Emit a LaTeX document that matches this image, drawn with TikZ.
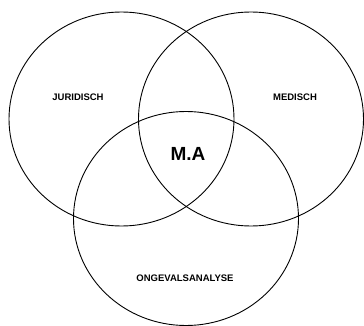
\documentclass[tikz,border=0pt]{standalone}
\usepackage{fontspec}
\setmainfont{Liberation Sans}
\usetikzlibrary{shapes.geometric}

\begin{document}
\begin{tikzpicture}[x=1pt, y=-1pt, line width=0.9pt,
      set/.style={draw, ellipse, minimum width=225pt, minimum height=214pt, inner sep=0pt},
      lbl/.style={font=\fontsize{9.5}{11}\selectfont\bfseries, inner sep=1pt},
      core/.style={font=\fontsize{19}{23}\selectfont\bfseries, inner sep=1pt}]

    \useasboundingbox (0, 0) rectangle (364, 326);

    % --- three overlapping sets ---
    \node[set] (jur) at (121.5, 119) {};
    \node[set] (med) at (251, 119) {};
    \node[set] (ong) at (186, 218.5) {};

    % --- set labels ---
    \node[lbl] (jurlbl) at (78, 97) {JURIDISCH};
    \node[lbl] (medlbl) at (295, 97) {MEDISCH};
    \node[lbl] (onglbl) at (185, 278) {ONGEVALSANALYSE};

    % --- centre ---
    \node[core] (ma) at (188, 154) {M.A};

\end{tikzpicture}
\end{document}
